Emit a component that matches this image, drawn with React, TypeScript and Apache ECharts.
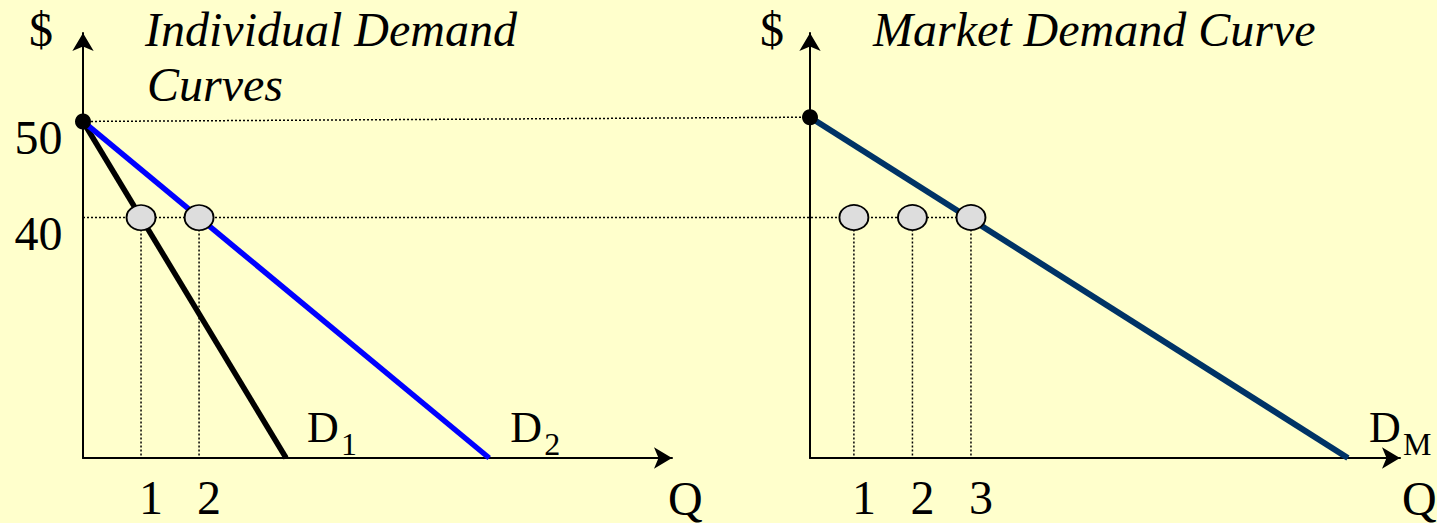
import React, { useEffect, useRef } from "react";
import * as echarts from "echarts";

// ---- data ----
const priceTicks = [50, 40];
const chokePrice = 50;
const refPrice = 40;
const individualQty = [1, 2];
const marketQty = [1, 2, 3];
const d1Points = [
  [0, 50],
  [3.5, 15],
];
const d2Points = [
  [0, 50],
  [7, 15],
];
const dmPoints = [
  [0.25, 50],
  [9.44, 16],
];
const leftXRange = [0, 10.15];
const leftYRange = [15, 59.2];
const rightXRange = [0.25, 10.33];
const rightYRange = [16, 58.4];

const FONT = '"Liberation Serif", "Times New Roman", serif';
const BG = "#FFFFCC";

function axisPair(xr: number[], yr: number[], idx: number) {
  const common = {
    type: "value" as const,
    gridIndex: idx,
    splitLine: { show: false },
    axisTick: { show: false },
    axisLabel: { show: false },
  };
  const line = {
    show: true,
    onZero: false,
    symbol: ["none", "arrow"],
    symbolSize: [16, 18],
    lineStyle: { color: "#000", width: 2 },
  };
  return {
    x: { ...common, min: xr[0], max: xr[1], axisLine: line },
    y: { ...common, min: yr[0], max: yr[1], axisLine: line },
  };
}

export default function App() {
  const ref = useRef<HTMLDivElement>(null);

  useEffect(() => {
    document.body.style.margin = "0";
    const chart = echarts.init(ref.current!, null, { renderer: "svg" });
    const a0 = axisPair(leftXRange, leftYRange, 0);
    const a1 = axisPair(rightXRange, rightYRange, 1);

    const dotted = (data: number[][], xi: number) => ({
      type: "line",
      xAxisIndex: xi,
      yAxisIndex: xi,
      data,
      symbol: "none",
      silent: true,
      z: 1,
      lineStyle: { color: "#000", width: 1.5, type: [2, 2] },
    });

    const ellipseStyle = {
      color: "#DDDDDD",
      borderColor: "#000",
      borderWidth: 1.8,
      opacity: 1,
    };

    const series: any[] = [
      {
        type: "line",
        xAxisIndex: 0,
        yAxisIndex: 0,
        data: d1Points,
        symbol: "none",
        z: 3,
        lineStyle: { color: "#000000", width: 5.5 },
      },
      {
        type: "line",
        xAxisIndex: 0,
        yAxisIndex: 0,
        data: d2Points,
        symbol: "none",
        z: 3,
        lineStyle: { color: "#0000FF", width: 5.5 },
      },
      {
        type: "line",
        xAxisIndex: 1,
        yAxisIndex: 1,
        data: dmPoints,
        symbol: "none",
        z: 3,
        lineStyle: { color: "#003366", width: 6 },
      },
      ...individualQty.map((q) => dotted([[q, refPrice], [q, leftYRange[0]]], 0)),
      ...marketQty.map((q) => dotted([[q, refPrice], [q, rightYRange[0]]], 1)),
      {
        type: "scatter",
        xAxisIndex: 0,
        yAxisIndex: 0,
        data: individualQty.map((q) => [q, refPrice]),
        symbol: "circle",
        symbolSize: [29, 25],
        clip: false,
        z: 5,
        itemStyle: ellipseStyle,
      },
      {
        type: "scatter",
        xAxisIndex: 1,
        yAxisIndex: 1,
        data: marketQty.map((q) => [q, refPrice]),
        symbol: "circle",
        symbolSize: [29, 25],
        clip: false,
        z: 5,
        itemStyle: ellipseStyle,
      },
      {
        type: "scatter",
        xAxisIndex: 0,
        yAxisIndex: 0,
        data: [[d1Points[0][0], chokePrice]],
        symbolSize: 16,
        clip: false,
        z: 6,
        itemStyle: { color: "#000", opacity: 1 },
      },
      {
        type: "scatter",
        xAxisIndex: 1,
        yAxisIndex: 1,
        data: [[dmPoints[0][0], chokePrice]],
        symbolSize: 16,
        clip: false,
        z: 6,
        itemStyle: { color: "#000", opacity: 1 },
      },
    ];

    chart.setOption({
      animation: false,
      backgroundColor: BG,
      grid: [
        { left: 83, top: 33, width: 589, height: 425 },
        { left: 810, top: 33, width: 590, height: 425 },
      ],
      xAxis: [a0.x, a1.x],
      yAxis: [a0.y, a1.y],
      series,
    });

    const L = (x: number, y: number) => chart.convertToPixel({ gridIndex: 0 }, [x, y]) as number[];
    const R = (x: number, y: number) => chart.convertToPixel({ gridIndex: 1 }, [x, y]) as number[];

    const txt = (
      text: string,
      x: number,
      y: number,
      size: number,
      italic = false,
      align = "left"
    ) => ({
      type: "text",
      x,
      y,
      z: 10,
      silent: true,
      style: {
        text,
        fontSize: size,
        fontFamily: FONT,
        fontStyle: italic ? "italic" : "normal",
        fill: "#000",
        align,
        verticalAlign: "middle",
      },
    });

    const hline = (p1: number[], p2: number[]) => ({
      type: "line",
      z: 1,
      silent: true,
      shape: { x1: p1[0], y1: p1[1], x2: p2[0], y2: p2[1] },
      style: { stroke: "#000", lineWidth: 1.5, lineDash: [2, 2] },
    });

    const elements: any[] = [];
    elements.push(hline(L(leftXRange[0], chokePrice), R(rightXRange[0], chokePrice)));
    elements.push(
      hline(L(leftXRange[0], refPrice), R(marketQty[marketQty.length - 1], refPrice))
    );

    elements.push(txt("$", 41, 29, 48, false, "center"));
    elements.push(txt("$", 772, 29, 48, false, "center"));
    elements.push(txt("Individual Demand", 145, 29, 48, true));
    elements.push(txt("Curves", 147, 84, 48, true));
    elements.push(txt("Market Demand Curve", 873, 29, 48, true));
    elements.push(txt("Q", 668, 498, 48));
    elements.push(txt("Q", 1402, 498, 48));

    priceTicks.forEach((p) => {
      const pt = L(leftXRange[0], p);
      elements.push(txt(String(p), 38.5, pt[1] + 16, 48, false, "center"));
    });

    individualQty.forEach((q) => {
      const pt = L(q, leftYRange[0]);
      elements.push(txt(String(q), pt[0] + 10, 497, 48, false, "center"));
    });
    marketQty.forEach((q) => {
      const pt = R(q, rightYRange[0]);
      elements.push(txt(String(q), pt[0] + 10, 497, 48, false, "center"));
    });

    const curveLabel = (end: number[], sub: string) => {
      elements.push(txt("D", end[0] + 21, 427, 44));
      elements.push(txt(sub, end[0] + 21 + 34, 444, 32));
    };
    curveLabel(L(d1Points[1][0], d1Points[1][1]), "1");
    curveLabel(L(d2Points[1][0], d2Points[1][1]), "2");
    curveLabel(R(dmPoints[1][0], dmPoints[1][1]), "M");

    chart.setOption({ graphic: { elements } });

    return () => chart.dispose();
  }, []);

  return (
    <div
      ref={ref}
      style={{
        position: "fixed",
        left: 0,
        top: 0,
        width: 1437,
        height: 523,
        background: BG,
      }}
    />
  );
}
